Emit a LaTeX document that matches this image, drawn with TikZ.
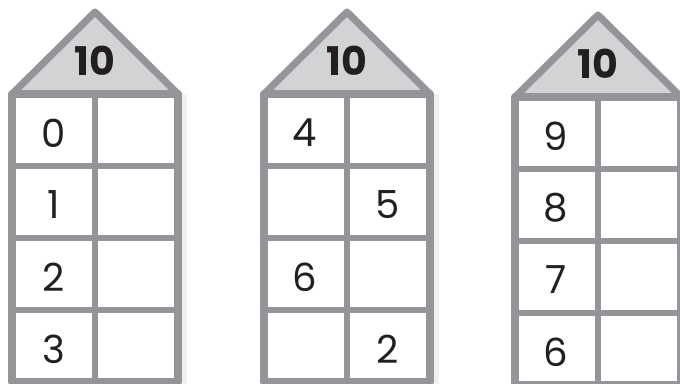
\documentclass[tikz,border=0pt]{standalone}
\usepackage{fontspec}
\setmainfont{Poppins}
\definecolor{framegray}{HTML}{939598}
\definecolor{roofgray}{HTML}{D1D3D4}
\definecolor{ink}{HTML}{231F20}
\begin{document}
\begin{tikzpicture}[x=0.02cm, y=-0.02cm,
  frame/.style={draw=framegray, line width=4.4pt, line join=round},
  inner/.style={draw=framegray, line width=3.1pt},
  roof/.style={fill=roofgray, draw=framegray, line width=4pt, line join=round},
  num/.style={inner sep=0pt, text=ink, font=\fontsize{22}{22}\selectfont},
  top/.style={inner sep=0pt, text=ink, font=\fontsize{22.5}{22.5}\selectfont\bfseries}]
  \useasboundingbox (0,0) rectangle (680,384);
  % the three houses
  \foreach \h/\x/\y in {1/12/94, 2/264/94, 3/515/97} {
    \fill[gray!12] (\x+166,\y) rectangle (\x+175,390);
    \filldraw[roof] (\x,\y) -- (\x+83,\y-82) -- (\x+166,\y) -- cycle;
    \fill[white] (\x,\y) rectangle (\x+166,\y+288);
    \foreach \k in {1,2,3}
      \draw[inner] (\x,\y+72*\k) -- (\x+166,\y+72*\k);
    \draw[inner] (\x+83,\y) -- (\x+83,\y+288);
    \draw[frame] (\x,\y+288) -- (\x,\y) -- (\x+166,\y) -- (\x+166,\y+288) -- cycle;
    \node[top] (top\h) at (\x+83,\y-33) {10};
  }
  % first house
  \node[num] (a1) at (54,133) {0};
  \node[num] (a2) at (54,205) {1};
  \node[num] (a3) at (54,277) {2};
  \node[num] (a4) at (54,349) {3};
  % second house
  \node[num] (b1) at (305,133) {4};
  \node[num] (b2) at (388,205) {5};
  \node[num] (b3) at (305,277) {6};
  \node[num] (b4) at (388,349) {2};
  % third house
  \node[num] (c1) at (556,136) {9};
  \node[num] (c2) at (556,208) {8};
  \node[num] (c3) at (556,280) {7};
  \node[num] (c4) at (556,352) {6};
\end{tikzpicture}
\end{document}
